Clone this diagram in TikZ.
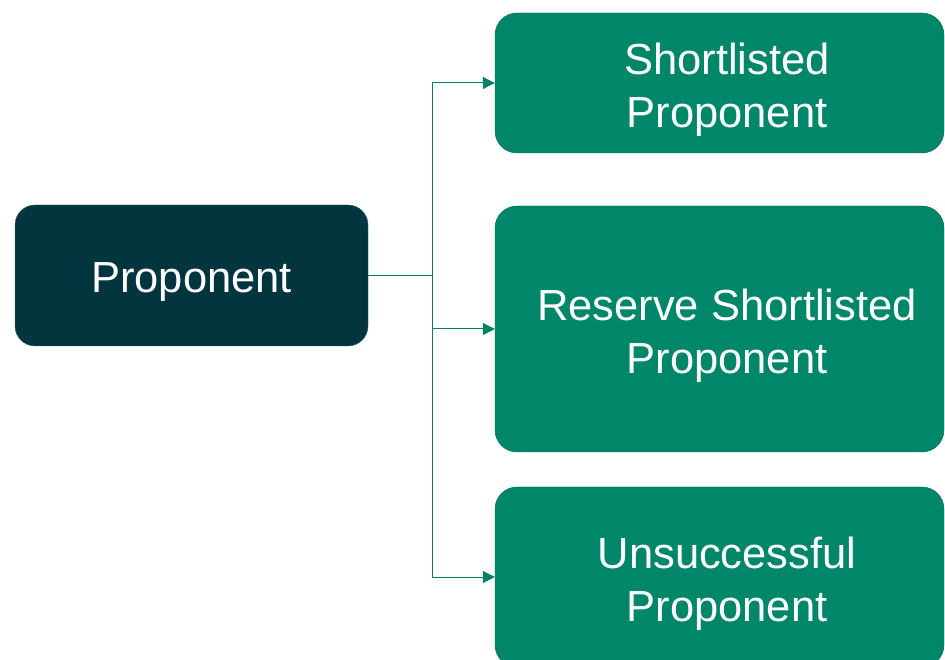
\documentclass[tikz,border=0pt]{standalone}
\usepackage{fontspec}
\setmainfont{Liberation Sans}
\usetikzlibrary{arrows.meta}
\usetikzlibrary{positioning}
\definecolor{darkteal}{RGB}{3,53,62}
\definecolor{boxgreen}{RGB}{0,135,106}
\definecolor{linegreen}{RGB}{0,128,100}
\tikzset{boxtext/.style={text=white,align=center,font=\fontsize{43.5}{53}\selectfont,xshift=7.5pt,yshift=-6.5pt}}
\tikzset{root/.style={rectangle,rounded corners=20pt,fill=darkteal,draw=darkteal!80!white,
    minimum width=353pt,minimum height=141pt}}
\tikzset{leaf/.style={rectangle,rounded corners=22pt,fill=boxgreen,draw=boxgreen!75!black,
    minimum width=449pt}}
\tikzset{conn/.style={draw=linegreen,line width=1pt}}

\begin{document}
\begin{tikzpicture}[x=1pt,y=1pt]
    \useasboundingbox (0,0) rectangle (945,659);
    \node[root, label={[boxtext, xshift=-7.5pt]center:Proponent}] (prop) at (191.5,383.5) {};
    \node[leaf, minimum height=140pt, label={[boxtext]center:{Shortlisted\\Proponent}}] (short) at (719.5,576) {};
    \node[leaf, minimum height=246pt, label={[boxtext]center:{Reserve Shortlisted\\Proponent}}] (reserve) at (719.5,330) {};
    \node[leaf, minimum height=180pt, label={[boxtext]center:{Unsuccessful\\Proponent}}] (unsucc) at (719.5,82) {};
    \coordinate (trunk) at (432,383.5);
    \draw[conn] (prop.east) -- (trunk);
    \draw[conn,-{Triangle[length=12pt,width=12pt]}] (trunk) |- (short.west);
    \draw[conn,-{Triangle[length=12pt,width=12pt]}] (trunk) |- (reserve.west);
    \draw[conn,-{Triangle[length=12pt,width=12pt]}] (trunk) |- (unsucc.west);
\end{tikzpicture}
\end{document}
